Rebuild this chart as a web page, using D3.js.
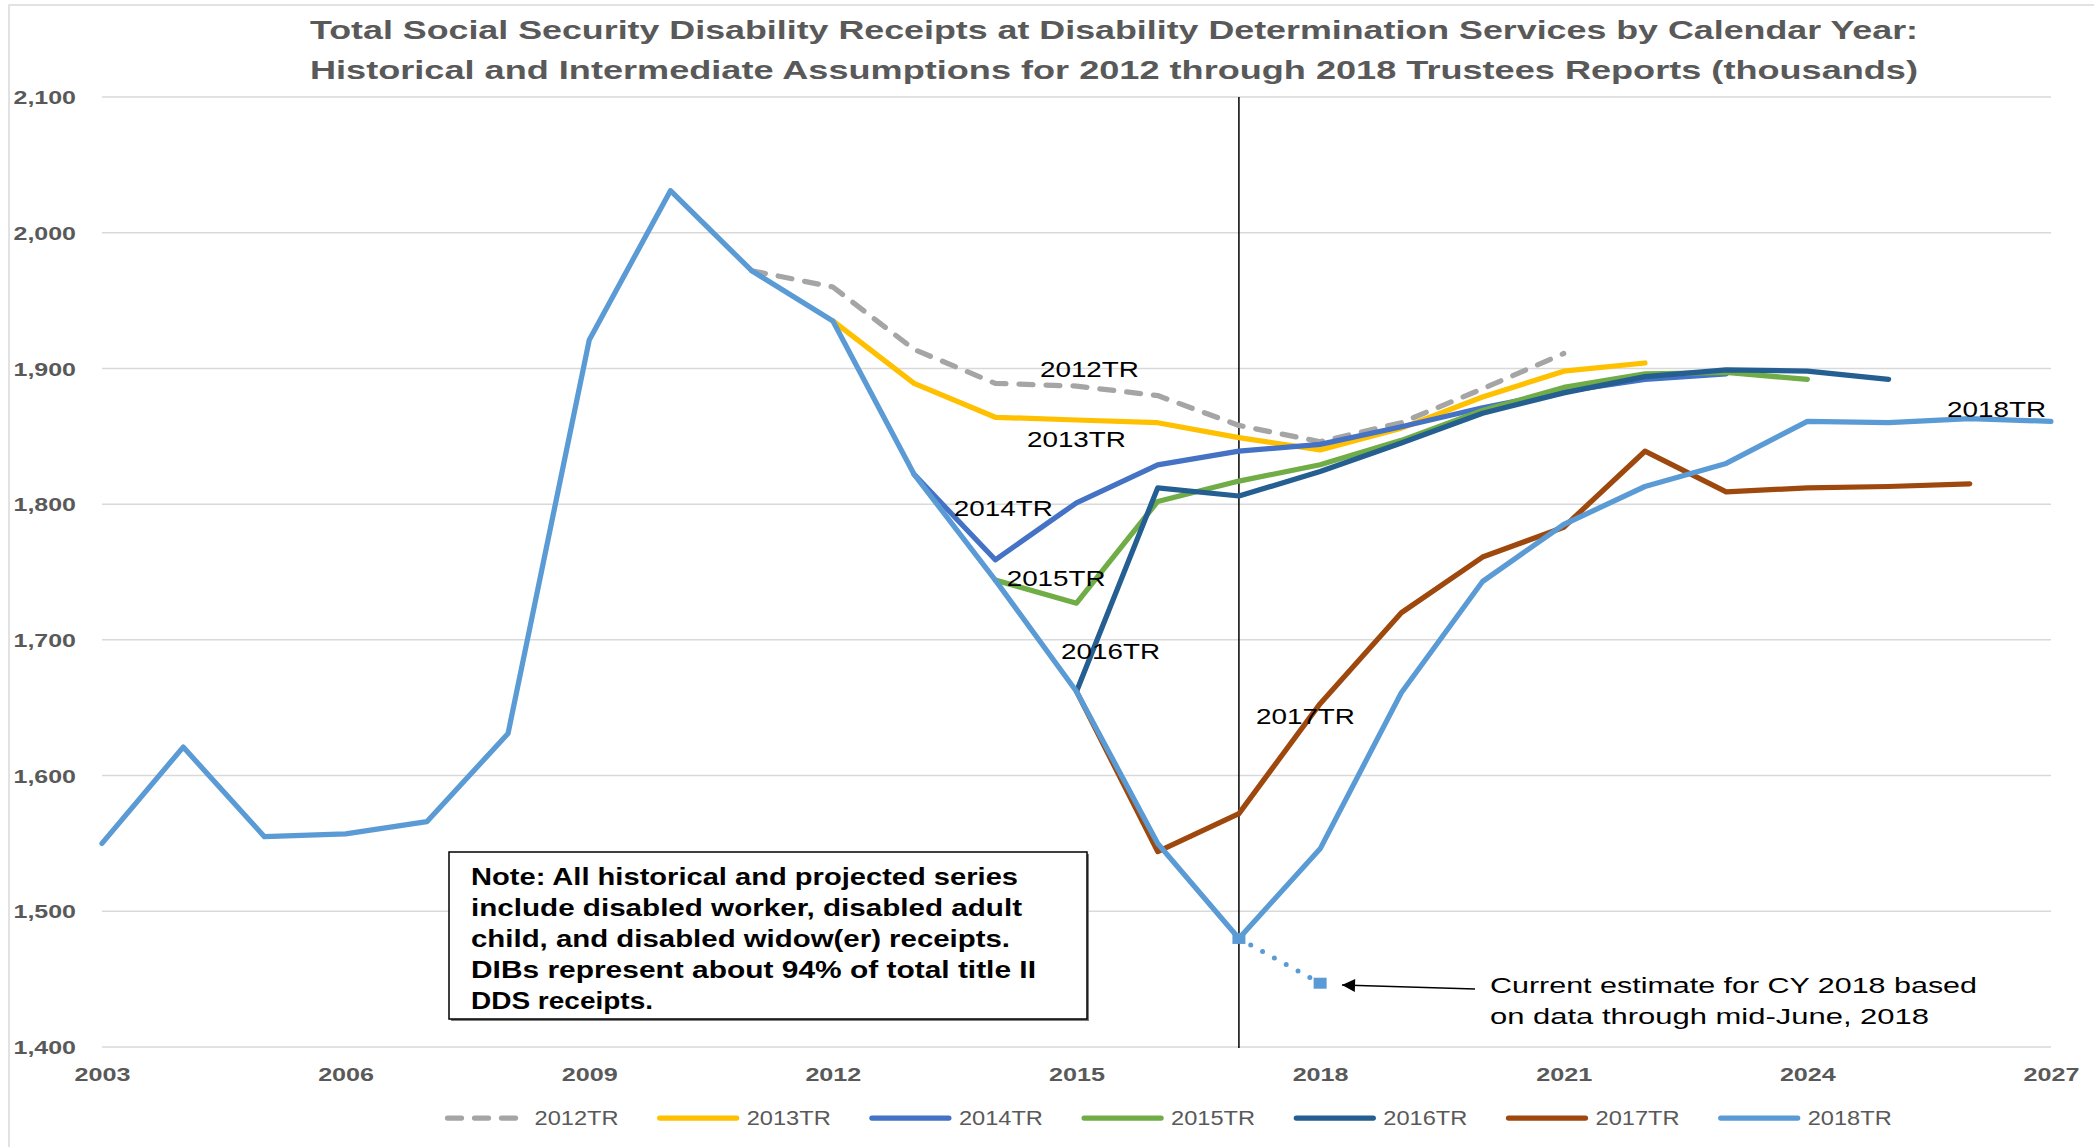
<!doctype html>
<html>
  <head>
    <meta charset="utf-8">
    <script src="https://cdnjs.cloudflare.com/ajax/libs/d3/7.8.5/d3.min.js"></script>
    <style>
      body {
        margin: 0;
        background-color: white;
      }
      .chart {
        font-family: "Liberation Sans", Arial, sans-serif;
        background-color: white;
      }
      .tick-label {
        font-weight: bold;
        fill: #595959;
      }
    </style>
  </head>
  <body>
    <svg class="chart"></svg>
    <script>
      // chart values
      const xTickYears = [2003, 2006, 2009, 2012, 2015, 2018, 2021, 2024, 2027]
      const yTickValues = [1400, 1500, 1600, 1700, 1800, 1900, 2000, 2100]

      const seriesNames = ["2012TR", "2013TR", "2014TR", "2015TR", "2016TR", "2017TR", "2018TR"]
      const seriesStartYears = [2011, 2012, 2013, 2014, 2015, 2015, 2003]

      const tr2012 = [1972, 1960, 1914, 1889, 1887, 1880, 1858, 1846, 1860, 1885, 1911]
      const tr2013 = [1935, 1889, 1864, 1862, 1860, 1849, 1840, 1856, 1879, 1898, 1904]
      const tr2014 = [1822, 1759, 1801, 1829, 1839, 1844, 1857, 1871, 1883, 1892, 1896]
      const tr2015 = [1744, 1727, 1802, 1817, 1829, 1847, 1869, 1886, 1896, 1897, 1892]
      const tr2016 = [1662, 1812, 1806, 1824, 1845, 1867, 1882, 1894, 1899, 1898, 1892]
      const tr2017 = [1662, 1544, 1572, 1653, 1720, 1761, 1783, 1839, 1809, 1812, 1813, 1815]
      const tr2018 = [1550, 1621, 1555, 1557, 1566, 1631, 1921, 2031, 1972, 1935, 1822, 1744,
                      1662, 1550, 1480, 1546, 1661, 1743, 1785, 1813, 1830, 1861, 1860, 1863, 1861]

      const estimateYears = [2017, 2018]
      const estimateValues = [1480, 1447]

      // where each series name sits, in chart units [year, value]
      const labelAnchors = [[2014.55, 1894], [2014.39, 1842], [2013.49, 1791], [2014.14, 1740],
                            [2014.81, 1686], [2017.21, 1638], [2025.72, 1864]]

      const noteLines = ["Note: All historical and projected series",
                         "include disabled worker, disabled adult",
                         "child, and disabled widow(er) receipts.",
                         "DIBs represent about 94% of total title II",
                         "DDS receipts."]
      const noteWidths = [547, 551, 539, 565, 182]

      const estimateLines = ["Current estimate for CY 2018 based", "on data through mid-June, 2018"]
      const estimateWidths = [487, 439]

      const titleLines = ["Total Social Security Disability Receipts at Disability Determination Services by Calendar Year:",
                          "Historical and Intermediate Assumptions for 2012 through 2018 Trustees Reports (thousands)"]

      const colors = ["#A5A5A5", "#FFC000", "#4472C4", "#70AD47", "#255E91", "#9E480E", "#5B9BD5"]
      const allSeries = [tr2012, tr2013, tr2014, tr2015, tr2016, tr2017, tr2018]

      const W = 2094, H = 1147
      const plot = { left: 102, right: 2051, top: 97, bottom: 1047 }
      const lineWidth = 5.25

      const svg = d3.select(".chart")
                    .attr("width", W)
                    .attr("height", H)

      svg.append("rect")
          .attr("width", W)
          .attr("height", H)
          .attr("fill", "white")

      // chart area frame (only left and top edges show in the picture)
      svg.append("path")
          .attr("d", "M9," + H + "V5H" + W)
          .attr("fill", "none")
          .attr("stroke", "#D9D9D9")
          .attr("stroke-width", 1.5)

      const xScale = d3.scaleLinear()
                         .domain([2003, 2027])
                         .range([plot.left, plot.right])

      const yScale = d3.scaleLinear()
                         .domain([1400, 2100])
                         .range([plot.bottom, plot.top])

      // title
      svg.selectAll(".title")
        .data(titleLines)
        .enter().append("text")
          .attr("class", "title")
          .attr("x", 310)
          .attr("y", (d, i) => 38.5 + i * 40)
          .attr("textLength", 1608)
          .attr("lengthAdjust", "spacingAndGlyphs")
          .attr("font-size", 26)
          .attr("font-weight", "bold")
          .attr("fill", "#595959")
          .text(d => d)

      // gridlines
      svg.append("g")
          .selectAll("line")
          .data(yTickValues)
          .enter().append("line")
            .attr("x1", plot.left)
            .attr("x2", plot.right)
            .attr("y1", d => yScale(d))
            .attr("y2", d => yScale(d))
            .attr("stroke", "#D9D9D9")
            .attr("stroke-width", 1.5)

      // y axis labels
      const yAxis = d3.axisLeft(yScale)
                       .tickValues(yTickValues)
                       .tickFormat(d3.format(","))
                       .tickSize(0)
                       .tickPadding(26)

      svg.append("g")
          .attr("id", "y-axis")
          .attr("transform", "translate(" + plot.left + ",0)")
          .call(yAxis)
          .call(g => g.select(".domain").remove())
          .call(g => g.selectAll("text")
                        .attr("class", "tick-label")
                        .attr("font-size", 18.5)
                        .attr("font-family", null)
                        .attr("dy", "0.36em")
                        .attr("textLength", 62.5)
                        .attr("lengthAdjust", "spacingAndGlyphs"))

      // x axis labels
      const xAxis = d3.axisBottom(xScale)
                        .tickValues(xTickYears)
                        .tickFormat(d3.format("d"))
                        .tickSize(0)
                        .tickPadding(21)

      svg.append("g")
          .attr("id", "x-axis")
          .attr("transform", "translate(0," + plot.bottom + ")")
          .call(xAxis)
          .call(g => g.select(".domain").remove())
          .call(g => g.selectAll("text")
                        .attr("class", "tick-label")
                        .attr("font-size", 18.5)
                        .attr("font-family", null)
                        .attr("dy", "0.71em")
                        .attr("textLength", 56)
                        .attr("lengthAdjust", "spacingAndGlyphs"))

      // 2017 divider between history and projections
      svg.append("line")
          .attr("x1", xScale(2017))
          .attr("x2", xScale(2017))
          .attr("y1", plot.top)
          .attr("y2", plot.bottom + 1)
          .attr("stroke", "black")
          .attr("stroke-width", 1.5)

      const line = d3.line()
                       .x(d => xScale(d[0]))
                       .y(d => yScale(d[1]))

      const seriesPoints = allSeries.map((vals, i) => vals.map((v, j) => [seriesStartYears[i] + j, v]))

      svg.append("g")
          .attr("id", "series")
          .selectAll("path")
          .data(seriesPoints)
          .enter().append("path")
            .attr("d", line)
            .attr("fill", "none")
            .attr("stroke", (d, i) => colors[i])
            .attr("stroke-width", lineWidth)
            .attr("stroke-linecap", "round")
            .attr("stroke-linejoin", "round")
            .attr("stroke-dasharray", (d, i) => i === 0 ? "14 13" : null)

      // current 2018 estimate: dotted segment with square markers
      const estimatePoints = estimateYears.map((y, i) => [y, estimateValues[i]])

      svg.append("path")
          .datum(estimatePoints)
          .attr("d", line)
          .attr("fill", "none")
          .attr("stroke", colors[6])
          .attr("stroke-width", 5)
          .attr("stroke-linecap", "round")
          .attr("stroke-dasharray", "0 13.5")

      svg.selectAll(".marker")
        .data(estimatePoints)
        .enter().append("rect")
          .attr("class", "marker")
          .attr("x", d => xScale(d[0]) - 6.5)
          .attr("y", d => yScale(d[1]) - 5.5)
          .attr("width", 13)
          .attr("height", 11)
          .attr("fill", colors[6])

      // series name labels
      svg.selectAll(".series-label")
        .data(seriesNames)
        .enter().append("text")
          .attr("class", "series-label")
          .attr("x", (d, i) => xScale(labelAnchors[i][0]))
          .attr("y", (d, i) => yScale(labelAnchors[i][1]))
          .attr("font-size", 22)
          .attr("textLength", 99)
          .attr("lengthAdjust", "spacingAndGlyphs")
          .attr("fill", "black")
          .text(d => d)

      // note box
      const note = svg.append("g").attr("id", "note")

      note.append("rect")
          .attr("x", 451)
          .attr("y", 854)
          .attr("width", 638)
          .attr("height", 167)
          .attr("fill", "#7F7F7F")

      note.append("rect")
          .attr("x", 449)
          .attr("y", 852)
          .attr("width", 638)
          .attr("height", 167)
          .attr("fill", "white")
          .attr("stroke", "black")
          .attr("stroke-width", 1.5)

      note.selectAll("text")
        .data(noteLines)
        .enter().append("text")
          .attr("x", 471)
          .attr("y", (d, i) => 885 + i * 31)
          .attr("font-size", 23)
          .attr("font-weight", "bold")
          .attr("fill", "black")
          .attr("textLength", (d, i) => noteWidths[i])
          .attr("lengthAdjust", "spacingAndGlyphs")
          .text(d => d)

      // arrow to the 2018 estimate
      svg.append("defs")
        .append("marker")
          .attr("id", "arrowhead")
          .attr("viewBox", "0 0 10 10")
          .attr("refX", 10)
          .attr("refY", 5)
          .attr("markerUnits", "userSpaceOnUse")
          .attr("markerWidth", 16)
          .attr("markerHeight", 13)
          .attr("orient", "auto")
        .append("path")
          .attr("d", "M0,0L10,5L0,10Z")
          .attr("fill", "black")

      svg.append("line")
          .attr("x1", 1475)
          .attr("y1", 989)
          .attr("x2", 1342)
          .attr("y2", 985)
          .attr("stroke", "black")
          .attr("stroke-width", 1.5)
          .attr("marker-end", "url(#arrowhead)")

      svg.selectAll(".estimate-note")
        .data(estimateLines)
        .enter().append("text")
          .attr("class", "estimate-note")
          .attr("x", 1490)
          .attr("y", (d, i) => 992.5 + i * 31.5)
          .attr("font-size", 22)
          .attr("fill", "black")
          .attr("textLength", (d, i) => estimateWidths[i])
          .attr("lengthAdjust", "spacingAndGlyphs")
          .text(d => d)

      // legend
      const legend = svg.append("g")
                          .attr("id", "legend")
                          .attr("transform", "translate(445.5,1118)")

      const item = legend.selectAll("g")
                     .data(seriesNames)
                     .enter().append("g")
                       .attr("transform", (d, i) => "translate(" + i * 212.2 + ",0)")

      item.append("line")
          .attr("x1", 2)
          .attr("x2", 79)
          .attr("stroke", (d, i) => colors[i])
          .attr("stroke-width", lineWidth)
          .attr("stroke-linecap", "round")
          .attr("stroke-dasharray", (d, i) => i === 0 ? "14 13" : null)

      item.append("text")
          .attr("x", 89)
          .attr("dy", "0.36em")
          .attr("font-size", 20)
          .attr("fill", "#595959")
          .attr("textLength", 84)
          .attr("lengthAdjust", "spacingAndGlyphs")
          .text(d => d)
    </script>
  </body>
</html>
